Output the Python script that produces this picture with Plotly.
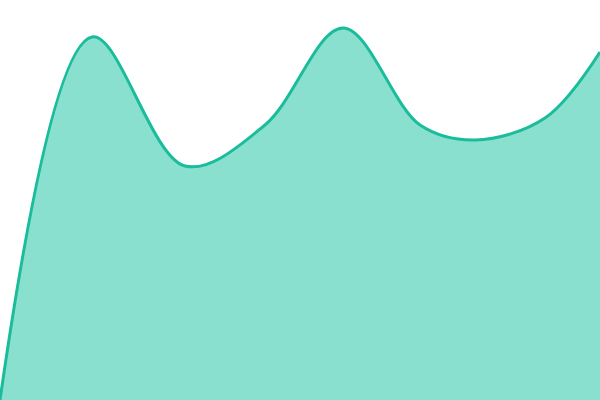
import plotly.graph_objects as go

# sample positions and values
xVals = [0, 92, 185, 265, 343, 420, 475, 545, 600]
yVals = [0, 363, 234, 275, 372, 275, 260, 282, 348]

LINE_COLOR = '#1abc9c'
FILL_COLOR = '#89e0cf'

fig = go.Figure()

fig.add_trace(go.Scatter(x=xVals, y=yVals,
                         mode='lines', fill='tozeroy',
                         fillcolor=FILL_COLOR,
                         line=dict(color=LINE_COLOR, width=3, shape='spline', smoothing=1.0)))

fig.update_layout(
    width=600, height=400,
    margin=dict(l=0, r=0, t=0, b=0),
    showlegend=False,
    plot_bgcolor='white',
    paper_bgcolor='white',
    xaxis=dict(range=[0, 600], visible=False, fixedrange=True),
    yaxis=dict(range=[0, 400], visible=False, fixedrange=True),
)

# drop the default page margin so the figure sits flush in the window
fig.write_html("out.html", config=dict(displayModeBar=False),
               post_script="document.body.style.margin='0';document.body.style.overflow='hidden';")
